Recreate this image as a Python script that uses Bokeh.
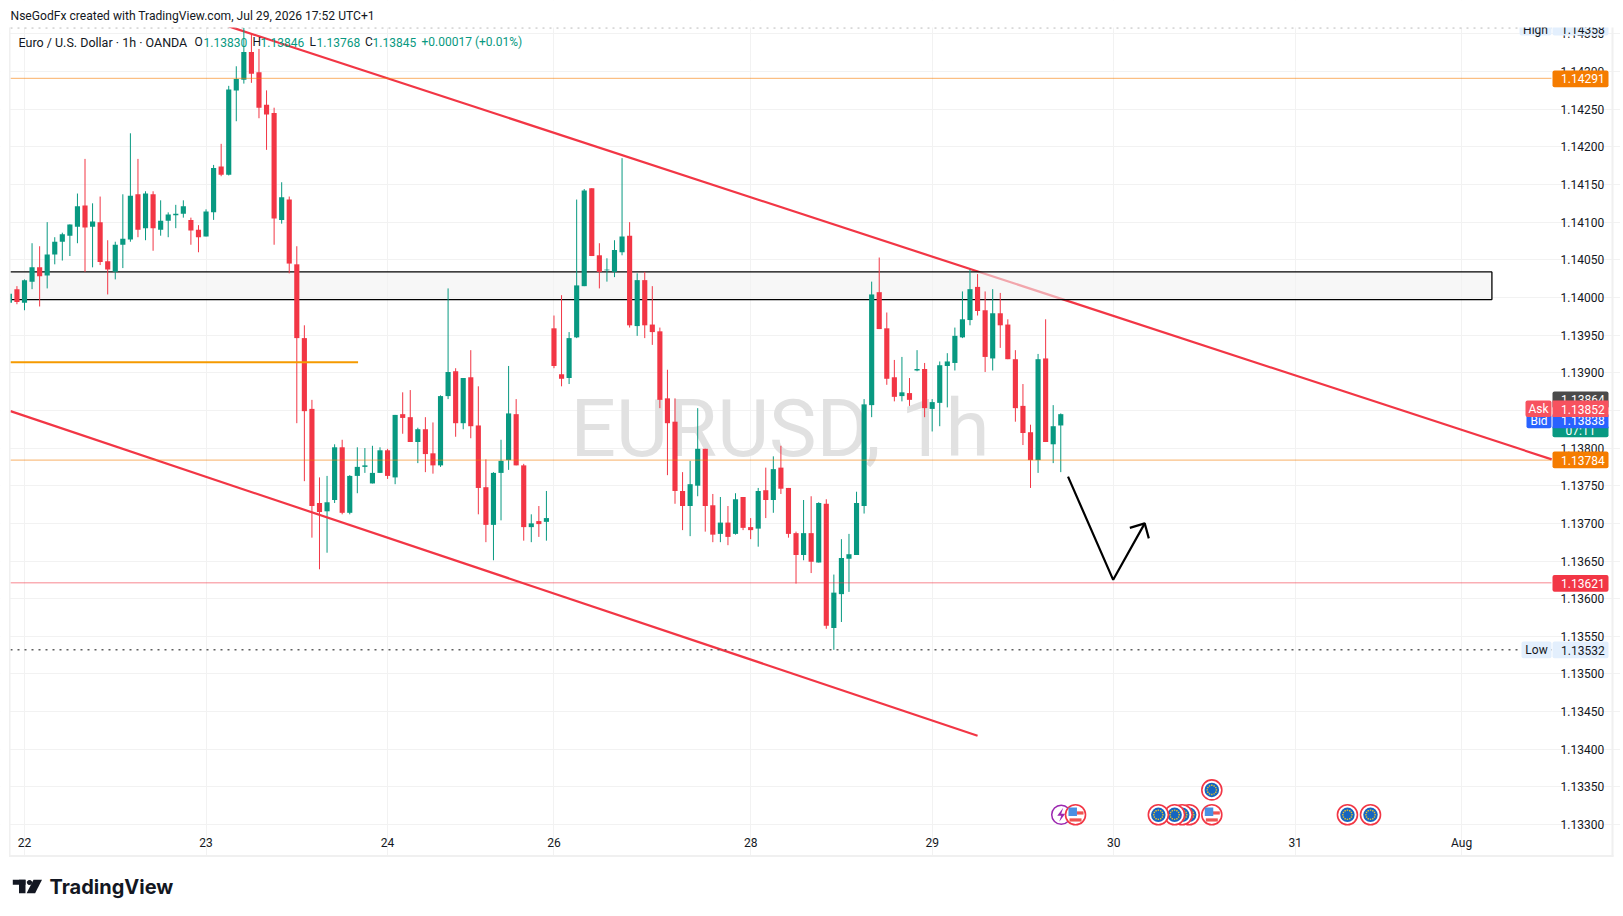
from bokeh.plotting import figure
from bokeh.embed import file_html
from bokeh.resources import INLINE
from bokeh.models import Label, BoxAnnotation, PolyAnnotation, FixedTicker, Range1d, NumeralTickFormatter
import math

# ---- data: prices in 1e-5 units, one entry per hourly bar ----
opens = [113993,114011,113993,114021,114040,114029,114057,114074,114082,114094,114122,114094,114100,114048,114034,114070,114077,114137,114092,114137,
114090,114102,114109,114111,114103,114090,114081,114113,114174,114163,114275,114289,114326,114299,114256,114245,114103,114130,114044,113946,
113852,113727,113716,113731,113801,113714,113763,113775,113753,113767,113797,113761,113845,113841,113808,113825,113793,113777,113869,113902,
113833,113894,113830,113748,113698,113767,113784,113845,113777,113695,113703,113702,113959,113898,113893,113947,114015,114145,114056,114036,
114034,114060,114082,113962,114023,113964,113955,113866,113835,113743,113723,113750,113799,113724,113686,113701,113686,113735,113695,113693,
113744,113731,113774,113747,113687,113658,113687,113648,113726,113561,113606,113653,113658,113723,113857,114007,113959,113894,113869,113873,
113903,113905,113852,113860,113909,113913,113947,113970,114014,113983,113919,113979,113964,113918,113856,113821,113784,113919,113805,113830]
highs = [114007,114015,114024,114072,114068,114100,114080,114086,114097,114138,114184,114125,114134,114076,114074,114137,114218,114184,114141,114141,
114129,114113,114123,114129,114106,114096,114117,114176,114204,114281,114307,114358,114350,114330,114275,114252,114153,114134,114068,113963,
113864,113761,113763,113805,113811,113764,113801,113800,113803,113801,113799,113844,113874,113877,113827,113841,113834,113870,114012,113906,
113893,113930,113882,113785,113768,113811,113909,113865,113779,113712,113723,113743,113976,114003,113954,114130,114144,114145,114072,114052,
114076,114185,114100,114032,114034,114015,113960,113904,113866,113768,113783,113853,113799,113739,113735,113723,113740,113735,113707,113747,
113774,113789,113803,113747,113689,113731,113736,113728,113732,113632,113679,113686,113742,113865,114021,114053,113980,113917,113921,113893,
113930,113913,113865,113915,113926,113960,114008,114037,114031,114008,114011,114006,113971,113930,113885,113831,113925,113971,113857,113846]
lows = [113987,113991,113983,114011,113988,114012,114044,114049,114055,114072,114034,114040,114043,114004,114024,114039,114074,114080,114076,114062,
114082,114080,114092,114106,114070,114060,114081,114103,114161,114162,114234,114284,114285,114238,114196,114070,114098,114032,113833,113756,
113681,113639,113661,113727,113712,113712,113740,113767,113753,113767,113759,113752,113819,113808,113780,113768,113766,113775,113865,113815,
113825,113813,113712,113675,113651,113704,113771,113777,113677,113675,113682,113677,113906,113882,113885,113946,114015,114055,114012,114021,
114027,114056,113960,113949,113946,113937,113853,113764,113726,113691,113683,113736,113689,113675,113675,113671,113685,113691,113679,113669,
113707,113714,113739,113681,113620,113651,113634,113648,113560,113532,113569,113609,113658,113713,113841,113958,113884,113862,113862,113856,
113902,113841,113822,113829,113854,113903,113946,113963,113976,113901,113903,113933,113918,113835,113804,113747,113767,113808,113780,113768]
closes = [114005,113994,114023,114040,114028,114057,114074,114084,114097,114121,114093,114101,114047,114037,114070,114078,114135,114090,114138,114092,
114102,114110,114111,114121,114089,114080,114114,114172,114163,114276,114290,114326,114297,114252,114243,114105,114133,114045,113946,113849,
113723,113715,113728,113801,113714,113763,113775,113777,113767,113797,113763,113844,113840,113808,113825,113792,113777,113869,113901,113833,
113893,113829,113747,113698,113767,113783,113846,113777,113695,113700,113699,113707,113909,113892,113946,114016,114142,114055,114034,114037,
114063,114081,113963,114023,113963,113954,113864,113833,113743,113723,113752,113799,113723,113685,113701,113682,113732,113694,113691,113743,
113731,113772,113746,113686,113658,113687,113649,113727,113564,113608,113654,113659,113727,113858,114004,113958,113892,113868,113874,113864,
113905,113853,113861,113910,113915,113949,113971,114011,113982,113921,113979,113963,113918,113853,113820,113784,113918,113808,113829,113845]

day_ticks = [2, 26, 50, 72, 98, 122, 146, 170, 192]
day_labels = ["22", "23", "24", "26", "28", "29", "30", "31", "Aug"]
price_ticks = [1.133, 1.1335, 1.134, 1.1345, 1.135, 1.1355, 1.136, 1.1365, 1.137, 1.1375, 1.138, 1.1385,
               1.139, 1.1395, 1.14, 1.1405, 1.141, 1.1415, 1.142, 1.1425, 1.143, 1.1435]

upper_x, upper_p = [29, 203.9], [1.14360, 1.13785]
lower_x, lower_p = [0.15, 128], [1.13849, 1.13418]
zone_x, zone_top, zone_bottom = [0.15, 196.0], 1.14034, 1.13997
seg_x, seg_p = [0.15, 46.1], 1.13914
level_orange = [1.14291, 1.13784]
level_red = 1.13621
day_high, day_low = 1.14358, 1.13532
arrow_x = [139.96, 145.93, 150.10]
arrow_p = [1.13762, 1.13625, 1.13700]
head_x = [148.13, 150.10, 150.64]
head_p = [1.13694, 1.13700, 1.13680]

eu_x = [179.95, 176.9, 158.97, 155.98, 155.05, 154.05, 151.9]
eu_p = [1.13313, 1.13313, 1.13346, 1.13313, 1.13313, 1.13313, 1.13313]
us_x = [140.95, 158.97]
us_p = [1.13313, 1.13313]
flash_x, flash_p = 139.06, 1.13313

# ---- layout helpers (page pixels -> data) ----
X0, BAR, YREF, PPX = 8.87, 7.564, 485.2, 75300.0
def X(px): return (px - X0) / BAR
def Y(py): return 1.1375 + (YREF - py) / PPX

RED, GREEN, ORANGE, BLUE = "#f23645", "#089981", "#f57c00", "#2962ff"
FONT = "Roboto"

W, H = 1620, 912
p = figure(width=W, height=H, output_backend="svg", toolbar_location=None,
           x_range=Range1d(X(0), X(W)), y_range=Range1d(Y(H), Y(0)),
           min_border_left=0, min_border_right=0, min_border_top=0, min_border_bottom=0,
           x_axis_location="below", y_axis_location="right")
p.outline_line_color = None
p.background_fill_color = "white"

xa, ya = p.xaxis[0], p.yaxis[0]
xa.fixed_location = Y(828)
ya.fixed_location = X(1551)
xa.ticker = FixedTicker(ticks=day_ticks)
xa.major_label_overrides = {t: l for t, l in zip(day_ticks, day_labels)}
ya.ticker = FixedTicker(ticks=price_ticks)
ya.formatter = NumeralTickFormatter(format="0.00000")
for a in (xa, ya):
    a.axis_line_color = None
    a.major_tick_line_color = None
    a.minor_tick_line_color = None
    a.major_tick_out = 0
    a.major_tick_in = 0
    a.minor_tick_out = 0
    a.major_label_text_font = FONT
    a.major_label_text_font_size = "12px"
    a.major_label_text_color = "#131722"
xa.major_label_standoff = 7
ya.major_label_standoff = 9
p.xgrid.grid_line_color = "#f2f2f2"
p.ygrid.grid_line_color = "#f2f2f2"
p.xgrid.ticker = FixedTicker(ticks=day_ticks)
p.ygrid.ticker = FixedTicker(ticks=price_ticks)
p.xgrid.bounds = (Y(828), Y(27))
p.ygrid.bounds = (X(10), X(1551))

def txt(text, px, py, size="12px", color="#131722", align="left", baseline="middle", level="annotation", style="normal", font=FONT):
    l = Label(x=X(px), y=Y(py), text=text, text_font=font, text_font_size=size, text_color=color,
              text_align=align, text_baseline=baseline, level=level, text_font_style=style)
    p.add_layout(l)
    return l

def box(x1, y1, x2, y2, color, radius=0):
    b = BoxAnnotation(left=X(x1), right=X(x2), top=Y(y1), bottom=Y(y2), fill_color=color, fill_alpha=1,
                      line_color=None, level="annotation", border_radius=radius)
    p.add_layout(b)

# watermark
txt("EURUSD, 1h", 570, 428, size="80px", color="#e1e1e1", baseline="alphabetic", level="underlay")

# upper trend line sits beneath the zone
p.line(upper_x, upper_p, line_color=RED, line_width=2.2)
p.quad(left=zone_x[0], right=zone_x[1], top=zone_top, bottom=zone_bottom, fill_color="#f2f2f2", fill_alpha=0.6, line_color=None)
p.segment(x0=zone_x[0], x1=zone_x[1], y0=zone_top, y1=zone_top, line_color="black", line_width=1.3)
p.segment(x0=zone_x[0], x1=zone_x[1], y0=zone_bottom, y1=zone_bottom, line_color="black", line_width=1.3)
p.segment(x0=zone_x[1], x1=zone_x[1], y0=zone_bottom, y1=zone_top, line_color="black", line_width=1.3)

# candles
idx = list(range(len(opens)))
col = [GREEN if c >= o else RED for o, c in zip(opens, closes)]
p.segment(x0=idx, x1=idx, y0=[v / 1e5 for v in lows], y1=[v / 1e5 for v in highs], line_color=col, line_width=1)
tops = [max(o, c) / 1e5 for o, c in zip(opens, closes)]
bots = [min(o, c) / 1e5 for o, c in zip(opens, closes)]
p.vbar(x=idx, width=0.68, top=tops, bottom=bots, fill_color=col, line_color=None)

# drawings above candles
p.line(lower_x, lower_p, line_color=RED, line_width=2.2)
p.line(seg_x, [seg_p, seg_p], line_color="#f59a00", line_width=2)
for lv in level_orange:
    p.line([X(10), X(1551)], [lv, lv], line_color=ORANGE, line_alpha=0.6, line_width=1)
p.line([X(10), X(1551)], [level_red, level_red], line_color=RED, line_alpha=0.6, line_width=1)
p.line([X(10), X(1551)], [day_high, day_high], line_color="#9a9a9a", line_width=1, line_dash="2 5")
p.line([X(10), X(1551)], [day_low, day_low], line_color="#5f5f5f", line_width=1.5, line_dash="2 5")
p.line(arrow_x, arrow_p, line_color="black", line_width=2.2)
p.line(head_x, head_p, line_color="black", line_width=2.2)

# events
def eu_icon(x, y):
    p.scatter([x], [y], size=20, marker="circle", fill_color="white", line_color=RED, line_width=1.6)
    p.scatter([x], [y], size=14.5, marker="circle", fill_color="#1565c0", line_color=None)
    xs = [x + 4.6 * math.cos(k * math.pi / 6) / BAR for k in range(12)]
    ys = [y + 4.6 * math.sin(k * math.pi / 6) / PPX for k in range(12)]
    p.scatter(xs, ys, size=1.4, marker="square", fill_color="#e6c229", line_color=None)

def us_icon(x, y):
    p.scatter([x], [y], size=20, marker="circle", fill_color="white", line_color=RED, line_width=1.6)
    p.rect([x + 4.5 / BAR], [y + 1.8 / PPX], width=7, height=3.2, width_units="screen", height_units="screen", fill_color="#ef5350", line_color=None)
    p.rect([x], [y - 5.2 / PPX], width=12, height=3.2, width_units="screen", height_units="screen", fill_color="#ef5350", line_color=None)
    p.rect([x - 2.8 / BAR], [y + 3 / PPX], width=8.5, height=8.5, width_units="screen", height_units="screen", fill_color="#4a90e2", line_color=None)

p.scatter([flash_x], [flash_p], size=19, marker="circle", fill_color="white", line_color="#9c27b0", line_width=1.5)
p.patch([flash_x + d / BAR for d in (2, -4, 0, -2, 4, 0)], [flash_p + d / PPX for d in (7, -1, -1, -7, 1, 1)], fill_color="#9c27b0", line_color=None)
for x, y in zip(us_x[:1], us_p[:1]):
    us_icon(x, y)
for x, y in zip(eu_x, eu_p):
    eu_icon(x, y)
us_icon(us_x[1], us_p[1])

# price tags
TAGL, TAGR, TXT = 1552, 1608, 1560.5
box(1519, 10, 1551, 35, "#e3effd", 2); box(TAGL, 10, TAGR, 35, "#e3effd", 2)
txt("High", 1535, 29, color="#131722", align="center")
txt("1.14358", TXT, 29)

# white margins around the pane
box(0, 0, W, 27, "white")
box(0, 27, 9, H, "white")
box(0, 856, W, H, "white")

# header & legend text
txt("NseGodFx created with TradingView.com, Jul 29, 2026 17:52 UTC+1", 10, 15, size="12.1px")
txt("Euro / U.S. Dollar · 1h · OANDA", 18, 41.5, size="12.5px")
for s, x0, c in [("O", 194, "#131722"), ("1.13830", 203, GREEN), ("H", 252, "#131722"), ("1.13846", 260, GREEN),
                 ("L", 309, "#131722"), ("1.13768", 316, GREEN), ("C", 364.5, "#131722"), ("1.13845", 372, GREEN),
                 ("+0.00017 (+0.01%)", 421, GREEN)]:
    txt(s, x0, 41.5, size="12px", color=c)

box(TAGL, 70, TAGR, 86.7, ORANGE, 2); txt("1.14291", TXT, 78.3, color="white")
box(TAGL, 391, TAGR, 408, "#4a4a4a", 2); txt("1.13864", TXT, 398.5, color="white")
box(TAGL, 425, TAGR, 436.7, GREEN, 2); txt("07:11", 1580, 430.5, color="white", align="center")
box(TAGL, 414, TAGR, 427.7, BLUE); txt("1.13838", TXT, 420, color="white")
box(1526, 414, 1551, 427.7, BLUE, 2); txt("Bid", 1538.5, 420, color="white", align="center")
box(TAGL, 400, TAGR, 416.5, "#f7525f"); txt("1.13852", TXT, 408.5, color="white")
box(1525, 400, 1551, 416.5, "#f7525f", 2); txt("Ask", 1538, 408.5, color="white", align="center")
box(TAGL, 451, TAGR, 467.7, ORANGE, 2); txt("1.13784", TXT, 459.5, color="white")
box(TAGL, 574.5, TAGR, 591.3, RED, 2); txt("1.13621", TXT, 583, color="white")
box(1521, 641, 1551, 657.7, "#e3effd", 2); txt("Low", 1536, 649.5, align="center")
box(TAGL, 641, TAGR, 657.7, "#e3effd", 2); txt("1.13532", TXT, 649.5)

# pane border
box(8.5, 27, 10, 856, "#f0f0f0")
box(1611, 27, 1613, 856, "#f0f0f0")
box(8.5, 854.5, 1613, 856.5, "#f0f0f0")

# brand
box(12.3, 879.3, 25, 884.3, "#131722")
box(18.5, 879.3, 25, 892.7, "#131722")
def poly(pts):
    p.add_layout(PolyAnnotation(xs=[X(a) for a, b in pts], ys=[Y(b) for a, b in pts], fill_color="#131722", fill_alpha=1, line_color=None, level="annotation"))
poly([(33, 879.3), (41.5, 879.3), (34.6, 892.7), (26.1, 892.7)])
poly([(29 + 2.6 * math.cos(k * math.pi / 6), 882 + 2.6 * math.sin(k * math.pi / 6)) for k in range(12)])
txt("TradingView", 49, 886, size="20px", baseline="alphabetic", style="bold", font="Inter")

open("out.html", "w").write(file_html(p, INLINE))
